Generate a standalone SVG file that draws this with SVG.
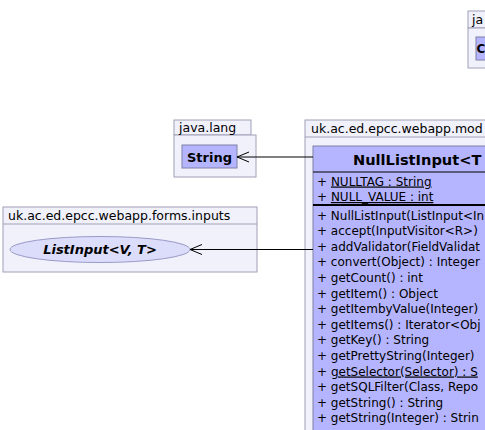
<svg xmlns="http://www.w3.org/2000/svg" width="485" height="430" viewBox="0 0 485 430">
<style>
.pkg{fill:#f1f1fb;stroke:#a0a0b8;stroke-width:1}
.cls{fill:#b5b5ff;stroke:#8080a8;stroke-width:1}
.t{font-family:"DejaVu Sans",sans-serif;font-size:12px;fill:#000}
.p{font-size:12.5px}
.n{font-size:13px;font-weight:bold}
.b{font-weight:bold}
.u{text-decoration:underline}
.ln{stroke:#000;stroke-width:1;fill:none}
</style>
<rect width="485" height="430" fill="#fff"/>
<g id="pkg-top-right">
<rect class="pkg" x="468" y="11" width="40" height="17"/>
<rect class="pkg" x="468" y="28" width="40" height="40"/>
<text class="t p" x="472" y="24">ja</text>
<rect class="cls" x="476" y="37" width="30" height="23"/>
<text class="t b" x="476.5" y="53">C</text>
</g>
<g id="pkg-java-lang">
<rect class="pkg" x="174" y="120" width="77" height="15"/>
<rect class="pkg" x="174" y="135" width="82" height="42"/>
<text class="t p" x="179" y="132">java.lang</text>
</g>
<g id="String">
<rect class="cls" x="182" y="145" width="55" height="23"/>
<text class="t n" x="209.5" y="161.5" text-anchor="middle">String</text>
</g>
<g id="pkg-forms-inputs">
<rect class="pkg" x="3" y="207" width="254" height="65"/>
<line x1="3" y1="224" x2="257" y2="224" stroke="#a0a0b8"/>
<text class="t p" x="8" y="219.5">uk.ac.ed.epcc.webapp.forms.inputs</text>
</g>
<g id="ListInput">
<ellipse cx="100" cy="249.5" rx="90" ry="13" fill="#dcdcfb" stroke="#9a9ac8"/>
<text class="t n" x="100" y="254" text-anchor="middle" font-style="italic">ListInput&lt;V, T&gt;</text>
</g>
<g id="pkg-model">
<rect class="pkg" x="305" y="120" width="200" height="320"/>
<line x1="305" y1="137" x2="505" y2="137" stroke="#a0a0b8"/>
<text class="t p" x="311" y="132.5">uk.ac.ed.epcc.webapp.mod</text>
</g>
<g id="NullListInput">
<rect class="cls" x="313" y="146" width="190" height="300"/>
<text class="t b" x="353" y="164.5" style="font-size:14.6px">NullListInput&lt;T</text>
<line x1="313" y1="172" x2="503" y2="172" stroke="#000"/>
<text class="t" x="317" y="185.5">+ <tspan class="u">NULLTAG : String</tspan></text>
<text class="t" x="317" y="201">+ <tspan class="u">NULL_VALUE : int</tspan></text>
<line x1="313" y1="205" x2="503" y2="205" stroke="#000" stroke-width="2"/>
<text class="t" x="317" y="219.5">+ NullListInput(ListInput&lt;In</text>
<text class="t" x="317" y="235.1">+ accept(InputVisitor&lt;R&gt;)</text>
<text class="t" x="317" y="250.7">+ addValidator(FieldValidat</text>
<text class="t" x="317" y="266.3">+ convert(Object) : Integer</text>
<text class="t" x="317" y="281.9">+ getCount() : int</text>
<text class="t" x="317" y="297.5">+ getItem() : Object</text>
<text class="t" x="317" y="313.1">+ getItembyValue(Integer)</text>
<text class="t" x="317" y="328.7">+ getItems() : Iterator&lt;Obj</text>
<text class="t" x="317" y="344.3">+ getKey() : String</text>
<text class="t" x="317" y="359.9">+ getPrettyString(Integer)</text>
<text class="t" x="317" y="375.5">+ <tspan class="u">getSelector(Selector) : S</tspan></text>
<text class="t" x="317" y="391.1">+ getSQLFilter(Class, Repo</text>
<text class="t" x="317" y="406.7">+ getString() : String</text>
<text class="t" x="317" y="422.3">+ getString(Integer) : Strin</text>
</g>
<g id="connectors">
<path class="ln" d="M313,157 H237 M249,152 L237,157 L249,162"/>
<path class="ln" d="M313,249.5 H190 M202,244.5 L190,249.5 L202,254.5"/>
</g>
</svg>
